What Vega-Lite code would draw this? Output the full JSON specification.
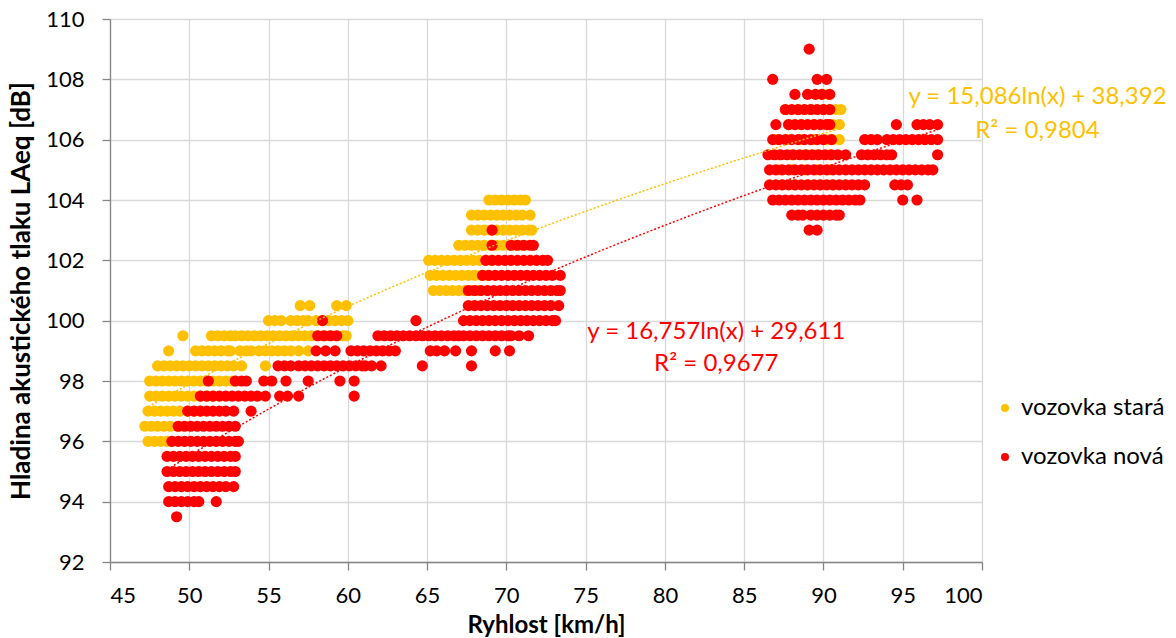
{
"$schema":"https://vega.github.io/schema/vega-lite/v6.json",
"width":872,"height":543,
"autosize":{"type":"none"},
"padding":{"left":110,"top":19,"right":194,"bottom":76},
"config":{"font":"Lato","view":{"stroke":null},
 "axis":{"gridColor":"#d9d9d9","gridWidth":1.3,"domainColor":"#868686","domainWidth":1.3,"tickColor":"#868686","tickWidth":1.3,"tickSize":8,"labelFontSize":22,"labelColor":"#000000","labelFont":"Lato","titleFont":"Lato","titleFontSize":24,"titleFontWeight":"bold","titleColor":"#000000"}},
"datasets":{
"pts":[
{"s":"S","x":47.4,"y":96},{"s":"S","x":47.8,"y":96},{"s":"S","x":48.2,"y":96},{"s":"S","x":48.6,"y":96},{"s":"S","x":48.9,"y":96},
{"s":"S","x":47.2,"y":96.5},{"s":"S","x":47.6,"y":96.5},{"s":"S","x":48.0,"y":96.5},{"s":"S","x":48.4,"y":96.5},{"s":"S","x":48.8,"y":96.5},{"s":"S","x":49.3,"y":96.5},
{"s":"S","x":47.4,"y":97},{"s":"S","x":47.8,"y":97},{"s":"S","x":48.2,"y":97},{"s":"S","x":48.6,"y":97},{"s":"S","x":49.0,"y":97},{"s":"S","x":49.4,"y":97},{"s":"S","x":49.9,"y":97},{"s":"S","x":50.3,"y":97},{"s":"S","x":50.7,"y":97},
{"s":"S","x":47.5,"y":97.5},{"s":"S","x":47.9,"y":97.5},{"s":"S","x":48.3,"y":97.5},{"s":"S","x":48.7,"y":97.5},{"s":"S","x":49.1,"y":97.5},{"s":"S","x":49.5,"y":97.5},{"s":"S","x":49.9,"y":97.5},{"s":"S","x":50.3,"y":97.5},{"s":"S","x":50.7,"y":97.5},{"s":"S","x":51.1,"y":97.5},{"s":"S","x":51.5,"y":97.5},
{"s":"S","x":47.5,"y":98},{"s":"S","x":47.9,"y":98},{"s":"S","x":48.3,"y":98},{"s":"S","x":48.7,"y":98},{"s":"S","x":49.1,"y":98},{"s":"S","x":49.5,"y":98},{"s":"S","x":49.9,"y":98},{"s":"S","x":50.3,"y":98},{"s":"S","x":50.7,"y":98},{"s":"S","x":51.1,"y":98},{"s":"S","x":51.5,"y":98},{"s":"S","x":51.9,"y":98},{"s":"S","x":52.3,"y":98},{"s":"S","x":52.7,"y":98},{"s":"S","x":52.9,"y":98},
{"s":"S","x":48.0,"y":98.5},{"s":"S","x":48.4,"y":98.5},{"s":"S","x":48.8,"y":98.5},{"s":"S","x":49.2,"y":98.5},{"s":"S","x":49.6,"y":98.5},{"s":"S","x":50.0,"y":98.5},{"s":"S","x":50.4,"y":98.5},{"s":"S","x":50.8,"y":98.5},{"s":"S","x":51.2,"y":98.5},{"s":"S","x":51.6,"y":98.5},{"s":"S","x":52.0,"y":98.5},{"s":"S","x":52.4,"y":98.5},{"s":"S","x":52.8,"y":98.5},{"s":"S","x":53.3,"y":98.5},{"s":"S","x":54.8,"y":98.5},
{"s":"S","x":48.7,"y":99},{"s":"S","x":50.4,"y":99},{"s":"S","x":50.8,"y":99},{"s":"S","x":51.2,"y":99},{"s":"S","x":51.6,"y":99},{"s":"S","x":52.0,"y":99},{"s":"S","x":52.4,"y":99},{"s":"S","x":52.6,"y":99},{"s":"S","x":53.2,"y":99},{"s":"S","x":53.6,"y":99},{"s":"S","x":53.9,"y":99},{"s":"S","x":54.4,"y":99},{"s":"S","x":54.8,"y":99},{"s":"S","x":55.2,"y":99},{"s":"S","x":55.6,"y":99},{"s":"S","x":56.0,"y":99},{"s":"S","x":56.4,"y":99},{"s":"S","x":56.9,"y":99},{"s":"S","x":57.5,"y":99},
{"s":"S","x":49.6,"y":99.5},{"s":"S","x":51.4,"y":99.5},{"s":"S","x":51.8,"y":99.5},{"s":"S","x":52.2,"y":99.5},{"s":"S","x":52.6,"y":99.5},{"s":"S","x":52.9,"y":99.5},{"s":"S","x":53.3,"y":99.5},{"s":"S","x":53.7,"y":99.5},{"s":"S","x":54.1,"y":99.5},{"s":"S","x":54.5,"y":99.5},{"s":"S","x":54.9,"y":99.5},{"s":"S","x":55.3,"y":99.5},{"s":"S","x":55.7,"y":99.5},{"s":"S","x":56.1,"y":99.5},{"s":"S","x":56.5,"y":99.5},{"s":"S","x":56.9,"y":99.5},{"s":"S","x":57.3,"y":99.5},{"s":"S","x":57.7,"y":99.5},{"s":"S","x":58.1,"y":99.5},{"s":"S","x":58.5,"y":99.5},{"s":"S","x":58.9,"y":99.5},{"s":"S","x":59.3,"y":99.5},{"s":"S","x":59.7,"y":99.5},{"s":"S","x":59.9,"y":99.5},
{"s":"S","x":55.0,"y":100},{"s":"S","x":55.4,"y":100},{"s":"S","x":55.8,"y":100},{"s":"S","x":56.4,"y":100},{"s":"S","x":56.8,"y":100},{"s":"S","x":57.2,"y":100},{"s":"S","x":57.5,"y":100},{"s":"S","x":58.0,"y":100},{"s":"S","x":58.4,"y":100},{"s":"S","x":58.8,"y":100},{"s":"S","x":59.2,"y":100},{"s":"S","x":59.6,"y":100},{"s":"S","x":60.0,"y":100},
{"s":"S","x":57.0,"y":100.5},{"s":"S","x":57.6,"y":100.5},{"s":"S","x":59.3,"y":100.5},{"s":"S","x":59.9,"y":100.5},
{"s":"S","x":65.4,"y":101},{"s":"S","x":65.8,"y":101},{"s":"S","x":66.2,"y":101},{"s":"S","x":66.6,"y":101},{"s":"S","x":67.0,"y":101},{"s":"S","x":67.4,"y":101},{"s":"S","x":67.8,"y":101},{"s":"S","x":68.2,"y":101},
{"s":"S","x":65.2,"y":101.5},{"s":"S","x":65.6,"y":101.5},{"s":"S","x":66.0,"y":101.5},{"s":"S","x":66.4,"y":101.5},{"s":"S","x":66.8,"y":101.5},{"s":"S","x":67.2,"y":101.5},{"s":"S","x":67.6,"y":101.5},{"s":"S","x":68.0,"y":101.5},{"s":"S","x":68.4,"y":101.5},{"s":"S","x":68.8,"y":101.5},
{"s":"S","x":65.1,"y":102},{"s":"S","x":65.5,"y":102},{"s":"S","x":65.9,"y":102},{"s":"S","x":66.3,"y":102},{"s":"S","x":66.7,"y":102},{"s":"S","x":67.1,"y":102},{"s":"S","x":67.5,"y":102},{"s":"S","x":67.9,"y":102},{"s":"S","x":68.3,"y":102},{"s":"S","x":68.7,"y":102},{"s":"S","x":69.1,"y":102},
{"s":"S","x":67.0,"y":102.5},{"s":"S","x":67.4,"y":102.5},{"s":"S","x":67.8,"y":102.5},{"s":"S","x":68.2,"y":102.5},{"s":"S","x":68.6,"y":102.5},{"s":"S","x":69.0,"y":102.5},{"s":"S","x":69.4,"y":102.5},{"s":"S","x":69.8,"y":102.5},{"s":"S","x":70.2,"y":102.5},{"s":"S","x":70.6,"y":102.5},{"s":"S","x":71.0,"y":102.5},
{"s":"S","x":67.8,"y":103},{"s":"S","x":68.2,"y":103},{"s":"S","x":68.6,"y":103},{"s":"S","x":69.0,"y":103},{"s":"S","x":69.4,"y":103},{"s":"S","x":69.8,"y":103},{"s":"S","x":70.2,"y":103},{"s":"S","x":70.6,"y":103},{"s":"S","x":71.0,"y":103},{"s":"S","x":71.4,"y":103},{"s":"S","x":71.6,"y":103},
{"s":"S","x":67.8,"y":103.5},{"s":"S","x":68.2,"y":103.5},{"s":"S","x":68.6,"y":103.5},{"s":"S","x":69.0,"y":103.5},{"s":"S","x":69.4,"y":103.5},{"s":"S","x":69.8,"y":103.5},{"s":"S","x":70.2,"y":103.5},{"s":"S","x":70.6,"y":103.5},{"s":"S","x":71.0,"y":103.5},{"s":"S","x":71.5,"y":103.5},
{"s":"S","x":68.9,"y":104},{"s":"S","x":69.3,"y":104},{"s":"S","x":69.7,"y":104},{"s":"S","x":70.1,"y":104},{"s":"S","x":70.5,"y":104},{"s":"S","x":70.9,"y":104},{"s":"S","x":71.2,"y":104},
{"s":"S","x":87.4,"y":104.5},{"s":"S","x":88.2,"y":104.5},{"s":"S","x":89.0,"y":104.5},{"s":"S","x":89.8,"y":104.5},{"s":"S","x":90.6,"y":104.5},
{"s":"S","x":87.2,"y":105},{"s":"S","x":88.0,"y":105},{"s":"S","x":88.8,"y":105},{"s":"S","x":89.6,"y":105},{"s":"S","x":90.4,"y":105},
{"s":"S","x":87.2,"y":105.5},{"s":"S","x":88.0,"y":105.5},{"s":"S","x":88.8,"y":105.5},{"s":"S","x":89.6,"y":105.5},{"s":"S","x":90.4,"y":105.5},
{"s":"S","x":87.0,"y":106},{"s":"S","x":87.8,"y":106},{"s":"S","x":88.6,"y":106},{"s":"S","x":89.4,"y":106},{"s":"S","x":90.2,"y":106},{"s":"S","x":90.6,"y":106},{"s":"S","x":91.0,"y":106},
{"s":"S","x":87.8,"y":106.5},{"s":"S","x":88.6,"y":106.5},{"s":"S","x":89.4,"y":106.5},{"s":"S","x":90.2,"y":106.5},{"s":"S","x":90.6,"y":106.5},{"s":"S","x":91.0,"y":106.5},
{"s":"S","x":87.6,"y":107},{"s":"S","x":88.4,"y":107},{"s":"S","x":89.2,"y":107},{"s":"S","x":90.0,"y":107},{"s":"S","x":90.4,"y":107},{"s":"S","x":90.8,"y":107},{"s":"S","x":91.1,"y":107},
{"s":"S","x":89.9,"y":107.5},{"s":"S","x":90.3,"y":107.5},
{"s":"N","x":49.2,"y":93.5},
{"s":"N","x":48.7,"y":94},{"s":"N","x":49.1,"y":94},{"s":"N","x":49.5,"y":94},{"s":"N","x":49.9,"y":94},{"s":"N","x":50.3,"y":94},{"s":"N","x":50.6,"y":94},{"s":"N","x":51.7,"y":94},
{"s":"N","x":48.7,"y":94.5},{"s":"N","x":49.1,"y":94.5},{"s":"N","x":49.5,"y":94.5},{"s":"N","x":49.9,"y":94.5},{"s":"N","x":50.3,"y":94.5},{"s":"N","x":50.7,"y":94.5},{"s":"N","x":51.1,"y":94.5},{"s":"N","x":51.5,"y":94.5},{"s":"N","x":51.9,"y":94.5},{"s":"N","x":52.3,"y":94.5},{"s":"N","x":52.8,"y":94.5},
{"s":"N","x":48.6,"y":95},{"s":"N","x":49.0,"y":95},{"s":"N","x":49.4,"y":95},{"s":"N","x":49.8,"y":95},{"s":"N","x":50.2,"y":95},{"s":"N","x":50.6,"y":95},{"s":"N","x":51.0,"y":95},{"s":"N","x":51.4,"y":95},{"s":"N","x":51.8,"y":95},{"s":"N","x":52.2,"y":95},{"s":"N","x":52.6,"y":95},{"s":"N","x":52.9,"y":95},
{"s":"N","x":48.6,"y":95.5},{"s":"N","x":49.0,"y":95.5},{"s":"N","x":49.4,"y":95.5},{"s":"N","x":49.8,"y":95.5},{"s":"N","x":50.2,"y":95.5},{"s":"N","x":50.6,"y":95.5},{"s":"N","x":51.0,"y":95.5},{"s":"N","x":51.4,"y":95.5},{"s":"N","x":51.8,"y":95.5},{"s":"N","x":52.2,"y":95.5},{"s":"N","x":52.6,"y":95.5},{"s":"N","x":52.9,"y":95.5},
{"s":"N","x":48.9,"y":96},{"s":"N","x":49.3,"y":96},{"s":"N","x":49.7,"y":96},{"s":"N","x":50.1,"y":96},{"s":"N","x":50.5,"y":96},{"s":"N","x":50.9,"y":96},{"s":"N","x":51.3,"y":96},{"s":"N","x":51.7,"y":96},{"s":"N","x":52.1,"y":96},{"s":"N","x":52.5,"y":96},{"s":"N","x":52.9,"y":96},{"s":"N","x":53.1,"y":96},
{"s":"N","x":49.3,"y":96.5},{"s":"N","x":49.7,"y":96.5},{"s":"N","x":50.1,"y":96.5},{"s":"N","x":50.5,"y":96.5},{"s":"N","x":50.9,"y":96.5},{"s":"N","x":51.3,"y":96.5},{"s":"N","x":51.7,"y":96.5},{"s":"N","x":52.1,"y":96.5},{"s":"N","x":52.5,"y":96.5},{"s":"N","x":52.9,"y":96.5},
{"s":"N","x":49.9,"y":97},{"s":"N","x":50.3,"y":97},{"s":"N","x":50.7,"y":97},{"s":"N","x":51.1,"y":97},{"s":"N","x":51.5,"y":97},{"s":"N","x":51.9,"y":97},{"s":"N","x":52.3,"y":97},{"s":"N","x":52.8,"y":97},{"s":"N","x":53.9,"y":97},
{"s":"N","x":50.7,"y":97.5},{"s":"N","x":51.1,"y":97.5},{"s":"N","x":51.5,"y":97.5},{"s":"N","x":51.9,"y":97.5},{"s":"N","x":52.3,"y":97.5},{"s":"N","x":52.7,"y":97.5},{"s":"N","x":53.1,"y":97.5},{"s":"N","x":53.5,"y":97.5},{"s":"N","x":53.9,"y":97.5},{"s":"N","x":54.3,"y":97.5},{"s":"N","x":54.8,"y":97.5},{"s":"N","x":55.7,"y":97.5},{"s":"N","x":56.2,"y":97.5},{"s":"N","x":56.9,"y":97.5},{"s":"N","x":60.4,"y":97.5},
{"s":"N","x":51.2,"y":98},{"s":"N","x":52.9,"y":98},{"s":"N","x":53.3,"y":98},{"s":"N","x":53.6,"y":98},{"s":"N","x":54.7,"y":98},{"s":"N","x":55.2,"y":98},{"s":"N","x":56.1,"y":98},{"s":"N","x":57.5,"y":98},{"s":"N","x":59.5,"y":98},{"s":"N","x":60.4,"y":98},
{"s":"N","x":55.6,"y":98.5},{"s":"N","x":56.0,"y":98.5},{"s":"N","x":56.4,"y":98.5},{"s":"N","x":56.9,"y":98.5},{"s":"N","x":57.3,"y":98.5},{"s":"N","x":57.7,"y":98.5},{"s":"N","x":58.1,"y":98.5},{"s":"N","x":58.5,"y":98.5},{"s":"N","x":58.9,"y":98.5},{"s":"N","x":59.3,"y":98.5},{"s":"N","x":59.7,"y":98.5},{"s":"N","x":60.1,"y":98.5},{"s":"N","x":60.5,"y":98.5},{"s":"N","x":60.9,"y":98.5},{"s":"N","x":61.1,"y":98.5},{"s":"N","x":61.5,"y":98.5},{"s":"N","x":62.1,"y":98.5},{"s":"N","x":64.7,"y":98.5},{"s":"N","x":67.8,"y":98.5},
{"s":"N","x":58.0,"y":99},{"s":"N","x":58.6,"y":99},{"s":"N","x":59.2,"y":99},{"s":"N","x":60.2,"y":99},{"s":"N","x":60.6,"y":99},{"s":"N","x":61.0,"y":99},{"s":"N","x":61.4,"y":99},{"s":"N","x":61.8,"y":99},{"s":"N","x":62.2,"y":99},{"s":"N","x":62.6,"y":99},{"s":"N","x":63.0,"y":99},{"s":"N","x":65.2,"y":99},{"s":"N","x":65.6,"y":99},{"s":"N","x":66.1,"y":99},{"s":"N","x":66.8,"y":99},{"s":"N","x":67.8,"y":99},{"s":"N","x":69.3,"y":99},{"s":"N","x":70.2,"y":99},
{"s":"N","x":58.1,"y":99.5},{"s":"N","x":58.5,"y":99.5},{"s":"N","x":58.9,"y":99.5},{"s":"N","x":59.3,"y":99.5},{"s":"N","x":61.9,"y":99.5},{"s":"N","x":62.3,"y":99.5},{"s":"N","x":62.7,"y":99.5},{"s":"N","x":63.1,"y":99.5},{"s":"N","x":63.5,"y":99.5},{"s":"N","x":63.9,"y":99.5},{"s":"N","x":64.3,"y":99.5},{"s":"N","x":64.7,"y":99.5},{"s":"N","x":65.1,"y":99.5},{"s":"N","x":65.5,"y":99.5},{"s":"N","x":65.9,"y":99.5},{"s":"N","x":66.3,"y":99.5},{"s":"N","x":66.7,"y":99.5},{"s":"N","x":67.0,"y":99.5},{"s":"N","x":67.3,"y":99.5},{"s":"N","x":67.7,"y":99.5},{"s":"N","x":68.1,"y":99.5},{"s":"N","x":68.5,"y":99.5},{"s":"N","x":68.9,"y":99.5},{"s":"N","x":69.3,"y":99.5},{"s":"N","x":69.7,"y":99.5},{"s":"N","x":70.1,"y":99.5},{"s":"N","x":70.3,"y":99.5},{"s":"N","x":70.8,"y":99.5},{"s":"N","x":71.4,"y":99.5},
{"s":"N","x":58.4,"y":100},{"s":"N","x":64.3,"y":100},{"s":"N","x":67.3,"y":100},{"s":"N","x":67.7,"y":100},{"s":"N","x":68.1,"y":100},{"s":"N","x":68.5,"y":100},{"s":"N","x":68.9,"y":100},{"s":"N","x":69.3,"y":100},{"s":"N","x":69.7,"y":100},{"s":"N","x":70.1,"y":100},{"s":"N","x":70.5,"y":100},{"s":"N","x":70.9,"y":100},{"s":"N","x":71.3,"y":100},{"s":"N","x":71.7,"y":100},{"s":"N","x":72.1,"y":100},{"s":"N","x":72.5,"y":100},{"s":"N","x":72.9,"y":100},{"s":"N","x":73.1,"y":100},
{"s":"N","x":67.6,"y":100.5},{"s":"N","x":68.0,"y":100.5},{"s":"N","x":68.4,"y":100.5},{"s":"N","x":68.8,"y":100.5},{"s":"N","x":69.2,"y":100.5},{"s":"N","x":69.6,"y":100.5},{"s":"N","x":70.0,"y":100.5},{"s":"N","x":70.4,"y":100.5},{"s":"N","x":70.8,"y":100.5},{"s":"N","x":71.2,"y":100.5},{"s":"N","x":71.6,"y":100.5},{"s":"N","x":72.0,"y":100.5},{"s":"N","x":72.4,"y":100.5},{"s":"N","x":72.8,"y":100.5},{"s":"N","x":73.3,"y":100.5},
{"s":"N","x":67.6,"y":101},{"s":"N","x":68.0,"y":101},{"s":"N","x":68.4,"y":101},{"s":"N","x":68.8,"y":101},{"s":"N","x":69.2,"y":101},{"s":"N","x":69.6,"y":101},{"s":"N","x":70.0,"y":101},{"s":"N","x":70.4,"y":101},{"s":"N","x":70.8,"y":101},{"s":"N","x":71.2,"y":101},{"s":"N","x":71.6,"y":101},{"s":"N","x":72.0,"y":101},{"s":"N","x":72.4,"y":101},{"s":"N","x":72.8,"y":101},{"s":"N","x":73.2,"y":101},{"s":"N","x":73.4,"y":101},
{"s":"N","x":68.5,"y":101.5},{"s":"N","x":68.9,"y":101.5},{"s":"N","x":69.3,"y":101.5},{"s":"N","x":69.7,"y":101.5},{"s":"N","x":70.1,"y":101.5},{"s":"N","x":70.5,"y":101.5},{"s":"N","x":70.9,"y":101.5},{"s":"N","x":71.3,"y":101.5},{"s":"N","x":71.7,"y":101.5},{"s":"N","x":72.1,"y":101.5},{"s":"N","x":72.5,"y":101.5},{"s":"N","x":72.9,"y":101.5},{"s":"N","x":73.4,"y":101.5},
{"s":"N","x":68.7,"y":102},{"s":"N","x":69.1,"y":102},{"s":"N","x":69.5,"y":102},{"s":"N","x":69.9,"y":102},{"s":"N","x":70.3,"y":102},{"s":"N","x":70.7,"y":102},{"s":"N","x":71.1,"y":102},{"s":"N","x":71.5,"y":102},{"s":"N","x":71.9,"y":102},{"s":"N","x":72.3,"y":102},{"s":"N","x":72.6,"y":102},
{"s":"N","x":69.1,"y":102.5},{"s":"N","x":70.3,"y":102.5},{"s":"N","x":70.7,"y":102.5},{"s":"N","x":71.1,"y":102.5},{"s":"N","x":71.5,"y":102.5},{"s":"N","x":71.7,"y":102.5},
{"s":"N","x":69.1,"y":103},
{"s":"N","x":89.1,"y":103},{"s":"N","x":89.6,"y":103},
{"s":"N","x":88.0,"y":103.5},{"s":"N","x":88.4,"y":103.5},{"s":"N","x":88.7,"y":103.5},{"s":"N","x":89.2,"y":103.5},{"s":"N","x":89.6,"y":103.5},{"s":"N","x":90.0,"y":103.5},{"s":"N","x":90.4,"y":103.5},{"s":"N","x":90.8,"y":103.5},{"s":"N","x":91.0,"y":103.5},
{"s":"N","x":86.8,"y":104},{"s":"N","x":87.2,"y":104},{"s":"N","x":87.6,"y":104},{"s":"N","x":88.0,"y":104},{"s":"N","x":88.4,"y":104},{"s":"N","x":88.8,"y":104},{"s":"N","x":89.2,"y":104},{"s":"N","x":89.6,"y":104},{"s":"N","x":90.0,"y":104},{"s":"N","x":90.4,"y":104},{"s":"N","x":90.8,"y":104},{"s":"N","x":91.2,"y":104},{"s":"N","x":91.6,"y":104},{"s":"N","x":92.0,"y":104},{"s":"N","x":92.3,"y":104},{"s":"N","x":95.0,"y":104},{"s":"N","x":95.9,"y":104},
{"s":"N","x":86.6,"y":104.5},{"s":"N","x":87.0,"y":104.5},{"s":"N","x":87.4,"y":104.5},{"s":"N","x":87.8,"y":104.5},{"s":"N","x":88.2,"y":104.5},{"s":"N","x":88.6,"y":104.5},{"s":"N","x":89.0,"y":104.5},{"s":"N","x":89.4,"y":104.5},{"s":"N","x":89.8,"y":104.5},{"s":"N","x":90.2,"y":104.5},{"s":"N","x":90.6,"y":104.5},{"s":"N","x":91.0,"y":104.5},{"s":"N","x":91.4,"y":104.5},{"s":"N","x":91.8,"y":104.5},{"s":"N","x":92.2,"y":104.5},{"s":"N","x":92.6,"y":104.5},{"s":"N","x":94.5,"y":104.5},{"s":"N","x":94.9,"y":104.5},{"s":"N","x":95.3,"y":104.5},
{"s":"N","x":86.6,"y":105},{"s":"N","x":87.0,"y":105},{"s":"N","x":87.4,"y":105},{"s":"N","x":87.8,"y":105},{"s":"N","x":88.2,"y":105},{"s":"N","x":88.6,"y":105},{"s":"N","x":89.0,"y":105},{"s":"N","x":89.4,"y":105},{"s":"N","x":89.8,"y":105},{"s":"N","x":90.2,"y":105},{"s":"N","x":90.6,"y":105},{"s":"N","x":91.0,"y":105},{"s":"N","x":91.4,"y":105},{"s":"N","x":91.8,"y":105},{"s":"N","x":92.2,"y":105},{"s":"N","x":92.6,"y":105},{"s":"N","x":93.0,"y":105},{"s":"N","x":93.4,"y":105},{"s":"N","x":93.8,"y":105},{"s":"N","x":94.2,"y":105},{"s":"N","x":94.6,"y":105},{"s":"N","x":95.0,"y":105},{"s":"N","x":95.4,"y":105},{"s":"N","x":95.8,"y":105},{"s":"N","x":96.2,"y":105},{"s":"N","x":96.6,"y":105},{"s":"N","x":96.9,"y":105},
{"s":"N","x":86.5,"y":105.5},{"s":"N","x":86.9,"y":105.5},{"s":"N","x":87.3,"y":105.5},{"s":"N","x":87.7,"y":105.5},{"s":"N","x":88.1,"y":105.5},{"s":"N","x":88.5,"y":105.5},{"s":"N","x":88.9,"y":105.5},{"s":"N","x":89.3,"y":105.5},{"s":"N","x":89.7,"y":105.5},{"s":"N","x":90.1,"y":105.5},{"s":"N","x":90.5,"y":105.5},{"s":"N","x":90.9,"y":105.5},{"s":"N","x":91.4,"y":105.5},{"s":"N","x":92.4,"y":105.5},{"s":"N","x":92.8,"y":105.5},{"s":"N","x":93.2,"y":105.5},{"s":"N","x":93.6,"y":105.5},{"s":"N","x":94.0,"y":105.5},{"s":"N","x":94.3,"y":105.5},{"s":"N","x":97.2,"y":105.5},
{"s":"N","x":86.8,"y":106},{"s":"N","x":87.2,"y":106},{"s":"N","x":87.6,"y":106},{"s":"N","x":88.0,"y":106},{"s":"N","x":88.4,"y":106},{"s":"N","x":88.8,"y":106},{"s":"N","x":89.2,"y":106},{"s":"N","x":89.6,"y":106},{"s":"N","x":90.0,"y":106},{"s":"N","x":90.5,"y":106},{"s":"N","x":92.6,"y":106},{"s":"N","x":93.0,"y":106},{"s":"N","x":93.4,"y":106},{"s":"N","x":94.0,"y":106},{"s":"N","x":94.4,"y":106},{"s":"N","x":94.8,"y":106},{"s":"N","x":95.2,"y":106},{"s":"N","x":95.6,"y":106},{"s":"N","x":96.0,"y":106},{"s":"N","x":96.4,"y":106},{"s":"N","x":96.8,"y":106},{"s":"N","x":97.2,"y":106},
{"s":"N","x":87.0,"y":106.5},{"s":"N","x":87.8,"y":106.5},{"s":"N","x":88.2,"y":106.5},{"s":"N","x":88.6,"y":106.5},{"s":"N","x":89.0,"y":106.5},{"s":"N","x":89.4,"y":106.5},{"s":"N","x":89.8,"y":106.5},{"s":"N","x":90.2,"y":106.5},{"s":"N","x":90.4,"y":106.5},{"s":"N","x":94.6,"y":106.5},{"s":"N","x":95.9,"y":106.5},{"s":"N","x":96.3,"y":106.5},{"s":"N","x":96.7,"y":106.5},{"s":"N","x":97.2,"y":106.5},
{"s":"N","x":87.6,"y":107},{"s":"N","x":88.0,"y":107},{"s":"N","x":88.4,"y":107},{"s":"N","x":88.8,"y":107},{"s":"N","x":89.2,"y":107},{"s":"N","x":89.6,"y":107},{"s":"N","x":90.0,"y":107},{"s":"N","x":90.4,"y":107},
{"s":"N","x":88.2,"y":107.5},{"s":"N","x":89.0,"y":107.5},{"s":"N","x":89.5,"y":107.5},{"s":"N","x":89.9,"y":107.5},{"s":"N","x":90.4,"y":107.5},
{"s":"N","x":86.8,"y":108},{"s":"N","x":89.6,"y":108},{"s":"N","x":90.2,"y":108},
{"s":"N","x":89.1,"y":109}
],
"notes":[
{"s":"S","x":103.5,"y":107.4,"t":"y = 15,086ln(x) + 38,392"},
{"s":"S","x":103.5,"y":106.28,"t":"R² = 0,9804"},
{"s":"N","x":83.24,"y":99.62,"t":"y = 16,757ln(x) + 29,611"},
{"s":"N","x":83.24,"y":98.56,"t":"R² = 0,9677"}
]},
"layer":[
{"data":{"name":"pts"},
 "mark":{"type":"circle","size":125,"opacity":1},
 "encoding":{
  "x":{"field":"x","type":"quantitative","scale":{"domain":[45,100],"nice":false,"zero":false},
       "axis":{"values":[45,50,55,60,65,70,75,80,85,90,95,100],"title":"Ryhlost [km/h]","labelPadding":15,"titlePadding":7}},
  "y":{"field":"y","type":"quantitative","scale":{"domain":[92,110],"nice":false,"zero":false},
       "axis":{"values":[92,94,96,98,100,102,104,106,108,110],"title":"Hladina akustického tlaku LAeq [dB]","titleFontSize":26,"labelPadding":18,"titlePadding":11}},
  "color":{"field":"s","type":"nominal","scale":{"domain":["S","N"],"range":["#FFC000","#FF0000"]},
       "legend":{"title":null,"orient":"none","legendX":883,"legendY":377,"symbolType":"circle","symbolSize":64,"labelFontSize":24,"labelColor":"#000000","labelOffset":4,"rowPadding":25,
                 "labelExpr":"datum.label == 'S' ? 'vozovka stará' : 'vozovka nová'"}}}},
{"data":{"name":"pts"},
 "transform":[{"filter":"datum.s == 'S'"},{"regression":"y","on":"x","method":"log","extent":[47.2,91.1]}],
 "mark":{"type":"line","color":"#FFC000","strokeDash":[2,2],"strokeWidth":1.5},
 "encoding":{"x":{"field":"x","type":"quantitative"},"y":{"field":"y","type":"quantitative"}}},
{"data":{"name":"pts"},
 "transform":[{"filter":"datum.s == 'N'"},{"regression":"y","on":"x","method":"log","extent":[48.6,97.2]}],
 "mark":{"type":"line","color":"#FF0000","strokeDash":[2,2],"strokeWidth":1.5},
 "encoding":{"x":{"field":"x","type":"quantitative"},"y":{"field":"y","type":"quantitative"}}},
{"data":{"name":"notes"},
 "mark":{"type":"text","fontSize":24,"align":"center","baseline":"middle","font":"Lato"},
 "encoding":{"x":{"field":"x","type":"quantitative"},"y":{"field":"y","type":"quantitative"},"text":{"field":"t"},
   "color":{"field":"s","type":"nominal","legend":null}}}
]
}
